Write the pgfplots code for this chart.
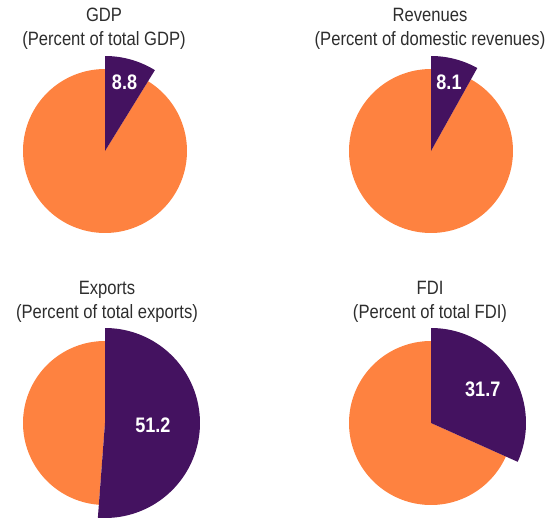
\documentclass[border=0pt]{standalone}
\usepackage{pgfplots}
\pgfplotsset{compat=1.18}
\usepackage{fontspec}
\setmainfont{Liberation Sans}[FakeStretch=0.86]
\definecolor{pieorange}{RGB}{254,130,64}
\definecolor{piepurple}{RGB}{68,18,96}
\definecolor{titlegray}{RGB}{45,45,45}
% #1 cx, #2 cy, #3 value (percent), #4 label radius
\newcommand{\pie}[4]{%
  \addplot[draw=none, fill=pieorange, domain={#3*3.6}:360, samples=120]
     ({#1+82*sin(x)},{#2-82*cos(x)}) -- (axis cs:#1,#2) -- cycle;
  \addplot[draw=none, fill=piepurple, domain=0:{#3*3.6}, samples=80]
     ({#1+95*sin(x)},{#2-95*cos(x)}) -- (axis cs:#1,#2) -- cycle;
  \node[text=white, font=\fontsize{21}{22}\selectfont\bfseries, anchor=center]
     at (axis cs:{#1+#4*sin(#3*1.8)},{#2-#4*cos(#3*1.8)}) {#3};
}
\newcommand{\ptitle}[4]{%
  \node[text=titlegray, font=\fontsize{19.3}{20}\selectfont, anchor=base] at (axis cs:#1,#2) {#3};
  \node[text=titlegray, font=\fontsize{19.3}{20}\selectfont, anchor=base] at (axis cs:#1,{#2+24}) {#4};
}
\begin{document}
\begin{tikzpicture}
\useasboundingbox (0,0) rectangle (558pt,522pt);
\begin{axis}[
  x=1pt, y=1pt, xmin=0, xmax=558, ymin=0, ymax=522,
  y dir=reverse, hide axis, clip=false, scale only axis,
  at={(0,0)}, anchor=south west
]
\pie{105}{151}{8.8}{71.5}
\pie{431}{151}{8.1}{71.5}
\pie{105}{423}{51.2}{48}
\pie{431}{423}{31.7}{61.7}
\ptitle{104}{21.7}{GDP}{(Percent of total GDP)}
\ptitle{430}{21.7}{Revenues}{(Percent of domestic revenues)}
\ptitle{107}{294.5}{Exports}{(Percent of total exports)}
\ptitle{430}{294.5}{FDI}{(Percent of total FDI)}
\end{axis}
\end{tikzpicture}
\end{document}
